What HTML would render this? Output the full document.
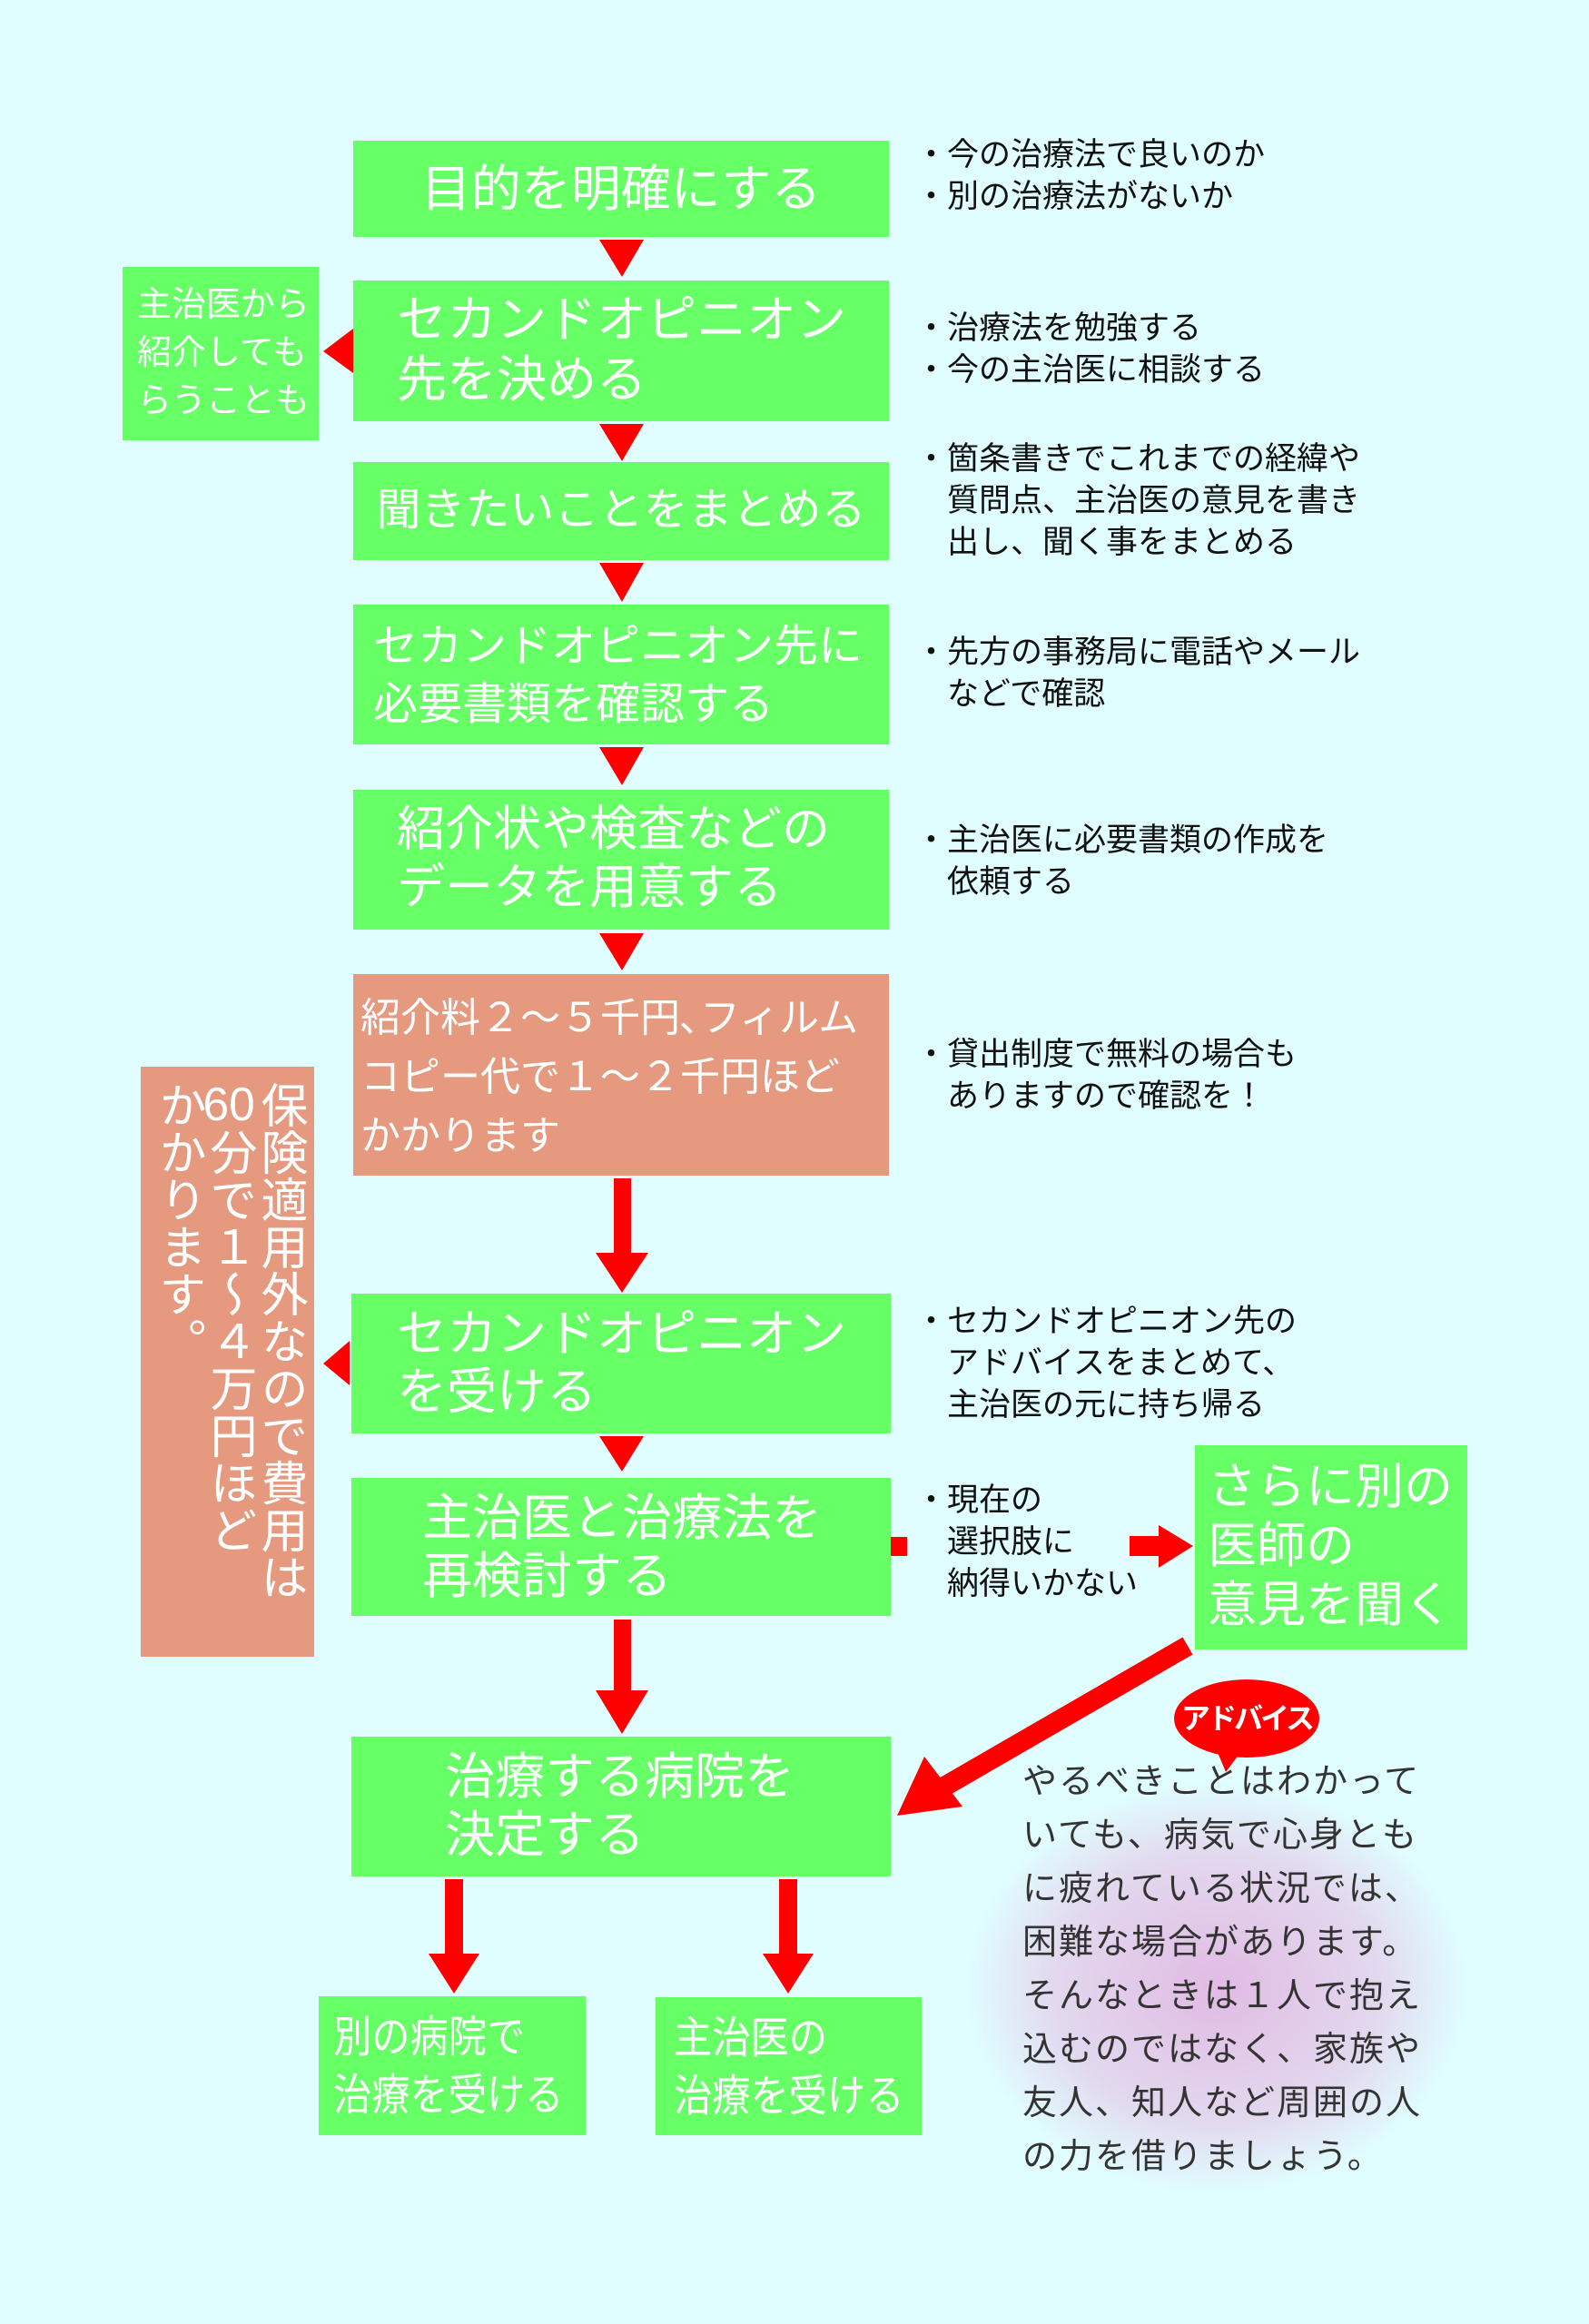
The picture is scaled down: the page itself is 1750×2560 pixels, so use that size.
<!DOCTYPE html>
<html><head><meta charset="utf-8">
<style>
body{margin:0;}
#c{position:relative;width:1750px;height:2560px;background:#e0feff;overflow:hidden;font-family:"Liberation Sans","Noto Sans CJK JP",sans-serif;}
.b{position:absolute;background:#66ff66;color:#fff;box-sizing:border-box;}
.s{position:absolute;background:#e59a80;color:#fff;box-sizing:border-box;}
.t{position:absolute;white-space:nowrap;}
.n{position:absolute;white-space:nowrap;font-size:35px;line-height:46px;color:#111;}
svg{position:absolute;left:0;top:0;}
</style></head><body><div id="c">
<div style="position:absolute;left:1060px;top:1960px;width:560px;height:460px;background:radial-gradient(ellipse at 50% 50%,rgba(225,170,220,0.8) 0%,rgba(228,185,225,0.55) 45%,rgba(224,254,255,0) 70%);"></div>

<svg width="1750" height="2560">
<g fill="#ff0000">
<polygon points="660,264 709,264 685,305"/>
<polygon points="660,467 709,467 685,508"/>
<polygon points="660,620 709,620 685,663"/>
<polygon points="660,823 709,823 685,865"/>
<polygon points="660,1028 709,1028 685,1069"/>
<polygon points="660,1582 709,1582 685,1621"/>
<polygon points="389,362 389,411 356,387"/>
<polygon points="385,1477 385,1526 356,1502"/>
<rect x="676" y="1298" width="19" height="84"/>
<polygon points="656,1380 714,1380 685,1424"/>
<rect x="676" y="1784" width="19" height="80"/>
<polygon points="656,1862 714,1862 685,1910"/>
<rect x="490" y="2070" width="20" height="85"/>
<polygon points="472,2152 528,2152 500,2196"/>
<rect x="858" y="2070" width="20" height="85"/>
<polygon points="840,2152 896,2152 868,2196"/>
<rect x="981" y="1693" width="18" height="21"/>
<rect x="1244" y="1692" width="36" height="22"/>
<polygon points="1276,1680 1314,1703 1276,1727"/>
<line x1="1308" y1="1813" x2="1040" y2="1968" stroke="#ff0000" stroke-width="22"/>
<polygon points="988,2000 1018,1935 1060,1990"/>
<ellipse cx="1373" cy="1893" rx="80" ry="43"/>
<polygon points="1340,1928 1368,1928 1350,1952"/>
</g>
</svg>

<div class="b" style="left:389px;top:155px;width:590px;height:106px;"><div class="t" style="left:0;width:590px;text-align:center;top:18px;font-size:55px;line-height:70px;">目的を明確にする</div></div>
<div class="b" style="left:389px;top:309px;width:590px;height:155px;"><div class="t" style="left:48px;top:10px;font-size:55px;line-height:66px;">セカンドオピニオン<br>先を決める</div></div>
<div class="b" style="left:135px;top:294px;width:216px;height:191px;"><div class="t" style="left:16px;top:16px;font-size:38px;line-height:53px;">主治医から<br>紹介しても<br>らうことも</div></div>
<div class="b" style="left:389px;top:509px;width:590px;height:108px;"><div class="t" style="left:0;width:590px;text-align:center;top:20px;font-size:49px;line-height:66px;">聞きたいことをまとめる</div></div>
<div class="b" style="left:389px;top:666px;width:590px;height:154px;"><div class="t" style="left:22px;top:14px;font-size:49px;line-height:64px;">セカンドオピニオン先に<br>必要書類を確認する</div></div>
<div class="b" style="left:389px;top:870px;width:590px;height:154px;"><div class="t" style="left:48px;top:12px;font-size:53px;line-height:64px;">紹介状や検査などの<br>データを用意する</div></div>
<div class="s" style="left:389px;top:1073px;width:590px;height:222px;"><div class="t" style="left:8px;top:16px;font-size:44px;line-height:65px;">紹介料２～５千円､フィルム<br>コピー代で１～２千円ほど<br>かかります</div></div>
<div class="s" style="left:155px;top:1175px;width:191px;height:650px;"><div style="position:absolute;right:10px;top:16px;height:630px;writing-mode:vertical-rl;font-size:52px;line-height:56px;white-space:nowrap;">保険適用外なので費用は<br><span style="text-combine-upright:all;">60</span>分で１～４万円ほど<br>かかります。</div></div>
<div class="b" style="left:387px;top:1425px;width:594px;height:154px;"><div class="t" style="left:50px;top:12px;font-size:55px;line-height:64px;">セカンドオピニオン<br>を受ける</div></div>
<div class="b" style="left:387px;top:1628px;width:594px;height:152px;"><div class="t" style="left:78px;top:12px;font-size:55px;line-height:64px;">主治医と治療法を<br>再検討する</div></div>
<div class="b" style="left:1316px;top:1592px;width:300px;height:225px;"><div class="t" style="left:14px;top:14px;font-size:54px;line-height:65px;">さらに別の<br>医師の<br>意見を聞く</div></div>
<div class="b" style="left:387px;top:1913px;width:594px;height:154px;"><div class="t" style="left:103px;top:12px;font-size:55px;line-height:64px;">治療する病院を<br>決定する</div></div>
<div class="b" style="left:351px;top:2199px;width:294px;height:153px;"><div class="t" style="left:16px;top:14px;font-size:48px;line-height:64px;transform:scaleX(0.88);transform-origin:left;">別の病院で<br>治療を受ける</div></div>
<div class="b" style="left:722px;top:2200px;width:293px;height:152px;"><div class="t" style="left:20px;top:14px;font-size:48px;line-height:64px;transform:scaleX(0.88);transform-origin:left;">主治医の<br>治療を受ける</div></div>

<div class="n" style="left:1008px;top:148px;">・今の治療法で良いのか<br>・別の治療法がないか</div>
<div class="n" style="left:1008px;top:339px;">・治療法を勉強する<br>・今の主治医に相談する</div>
<div class="n" style="left:1008px;top:483px;">・箇条書きでこれまでの経緯や<br>　質問点、主治医の意見を書き<br>　出し、聞く事をまとめる</div>
<div class="n" style="left:1008px;top:696px;">・先方の事務局に電話やメール<br>　などで確認</div>
<div class="n" style="left:1008px;top:903px;">・主治医に必要書類の作成を<br>　依頼する</div>
<div class="n" style="left:1008px;top:1139px;">・貸出制度で無料の場合も<br>　ありますので確認を！</div>
<div class="n" style="left:1008px;top:1433px;">・セカンドオピニオン先の<br>　アドバイスをまとめて、<br>　主治医の元に持ち帰る</div>
<div class="n" style="left:1008px;top:1630px;">・現在の<br>　選択肢に<br>　納得いかない</div>
<div class="t" style="left:1293px;top:1870px;width:160px;text-align:center;color:#fff;font-weight:bold;font-size:32px;line-height:46px;letter-spacing:-3px;">アドバイス</div>
<div class="t" style="left:1126px;top:1934px;font-size:38px;line-height:59px;letter-spacing:2px;color:#333;">やるべきことはわかって<br>いても、病気で心身とも<br>に疲れている状況では、<br>困難な場合があります。<br>そんなときは１人で抱え<br>込むのではなく、家族や<br>友人、知人など周囲の人<br>の力を借りましょう。</div>
</div></body></html>
